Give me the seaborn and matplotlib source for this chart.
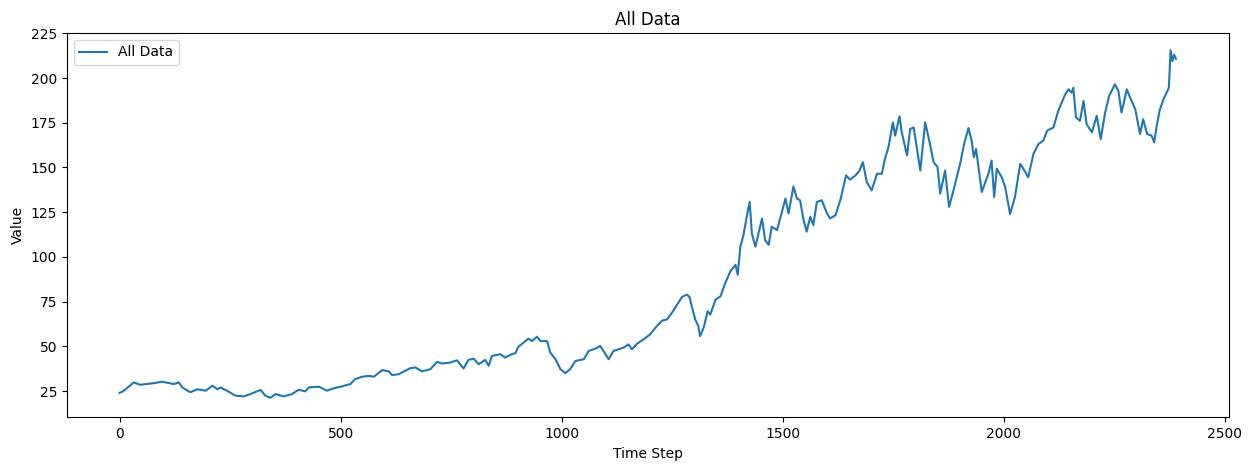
import matplotlib
matplotlib.use("Agg")
import matplotlib.pyplot as plt
import seaborn as sns
import pandas as pd

# values (time step, value)
time_step = [
    0, 6, 14, 32, 47, 78, 96, 123, 134, 142, 160, 176, 195, 210, 221, 228, 243,
    262, 281, 296, 319, 330, 341, 353, 371, 390, 405, 420, 428, 451, 469, 484,
    503, 522, 533, 549, 564, 575, 594, 609, 616, 631, 646, 658, 669, 684, 703,
    718, 729, 748, 763, 778, 789, 801, 812, 827, 835, 842, 861, 872, 887, 895,
    902, 918, 925, 933, 944, 952, 967, 974, 986, 997, 1008, 1019, 1031, 1050,
    1061, 1076, 1087, 1099, 1106, 1117, 1140, 1151, 1159, 1170, 1185, 1200,
    1215, 1227, 1238, 1249, 1261, 1272, 1283, 1289, 1294, 1302, 1309, 1313,
    1321, 1330, 1336, 1348, 1359, 1370, 1381, 1393, 1398, 1404, 1411, 1419,
    1425, 1430, 1438, 1445, 1453, 1460, 1468, 1475, 1487, 1494, 1506, 1513,
    1524, 1532, 1539, 1547, 1554, 1562, 1569, 1577, 1588, 1600, 1607, 1619,
    1630, 1637, 1643, 1652, 1664, 1673, 1681, 1690, 1701, 1713, 1724, 1731,
    1739, 1749, 1754, 1764, 1769, 1781, 1788, 1796, 1803, 1811, 1822, 1832,
    1841, 1850, 1856, 1867, 1876, 1886, 1901, 1910, 1920, 1927, 1932, 1937,
    1942, 1950, 1957, 1965, 1972, 1978, 1984, 1995, 2003, 2014, 2025, 2037,
    2044, 2055, 2067, 2078, 2089, 2098, 2112, 2123, 2138, 2146, 2153, 2157,
    2163, 2172, 2180, 2187, 2199, 2210, 2219, 2229, 2238, 2251, 2259, 2266,
    2278, 2287, 2297, 2308, 2315, 2324, 2334, 2340, 2345, 2352, 2361, 2368,
    2373, 2377, 2381, 2385, 2389,
]
value = [
    24.0, 24.6, 26.0, 29.8, 28.5, 29.4, 30.2, 28.9, 29.8, 27.0, 24.3, 26.0,
    25.2, 28.0, 26.0, 27.0, 25.2, 22.4, 22.0, 23.3, 25.6, 22.4, 21.2, 23.3,
    22.0, 23.3, 25.7, 24.8, 27.0, 27.4, 25.2, 26.5, 27.6, 28.9, 31.7, 33.0,
    33.5, 33.0, 36.7, 36.0, 33.9, 34.4, 36.3, 37.8, 38.2, 36.0, 37.2, 41.3,
    40.4, 40.9, 42.2, 37.6, 42.4, 43.1, 40.0, 42.4, 39.1, 44.6, 45.6, 43.7,
    45.6, 46.1, 49.8, 52.9, 54.3, 52.9, 55.4, 52.9, 52.9, 46.5, 42.8, 37.2,
    35.0, 37.2, 41.8, 42.8, 47.4, 48.7, 50.2, 45.6, 42.8, 47.4, 49.3, 51.1,
    48.3, 51.4, 53.9, 56.7, 61.3, 64.4, 65.0, 68.7, 73.3, 77.6, 78.9, 77.6,
    72.4, 65.0, 61.3, 55.7, 60.4, 69.6, 67.8, 76.1, 77.9, 85.4, 91.8, 95.6,
    90.0, 105.7, 112.2, 123.3, 130.7, 113.1, 105.7, 113.1, 121.5, 109.4,
    106.7, 116.9, 115.0, 121.5, 132.6, 124.3, 139.4, 132.6, 131.7, 120.6,
    114.1, 122.4, 117.8, 130.7, 131.7, 124.3, 121.5, 123.3, 131.7, 139.0,
    145.6, 143.2, 145.5, 148.0, 153.0, 141.8, 137.2, 146.5, 146.5, 154.8,
    161.3, 175.2, 167.8, 178.6, 169.6, 156.7, 171.5, 172.4, 161.3, 148.3,
    175.2, 164.1, 153.0, 150.2, 135.4, 148.3, 128.0, 137.2, 152.0, 163.1,
    172.1, 165.0, 155.7, 160.4, 151.1, 136.3, 141.0, 146.5, 153.9, 133.5,
    149.3, 144.6, 139.0, 124.0, 133.5, 152.0, 149.3, 144.6, 157.6, 163.1,
    165.0, 170.6, 172.4, 181.7, 190.5, 193.7, 191.8, 194.6, 178.0, 176.1,
    187.2, 174.3, 169.6, 178.9, 165.9, 180.7, 190.0, 196.5, 192.8, 180.7,
    193.7, 188.2, 182.6, 168.7, 177.0, 168.7, 167.8, 164.1, 172.4, 181.7,
    188.2, 191.8, 194.6, 215.5, 209.4, 213.1, 210.7,
]

df = pd.DataFrame({"Time Step": time_step, "Value": value})

fig = plt.figure(figsize=(12.52, 4.7), dpi=100)
ax = fig.add_axes([0.0533, 0.1121, 0.9281, 0.8177])
sns.lineplot(data=df, x="Time Step", y="Value", ax=ax, label="All Data",
             color="#1f77b4", linewidth=1.5)
ax.set_ylim(10.3, 225.2)
ax.set_title("All Data")
ax.set_xlabel("Time Step")
ax.set_ylabel("Value")
ax.legend(loc="upper left")
fig.savefig("out.png", dpi=100)
